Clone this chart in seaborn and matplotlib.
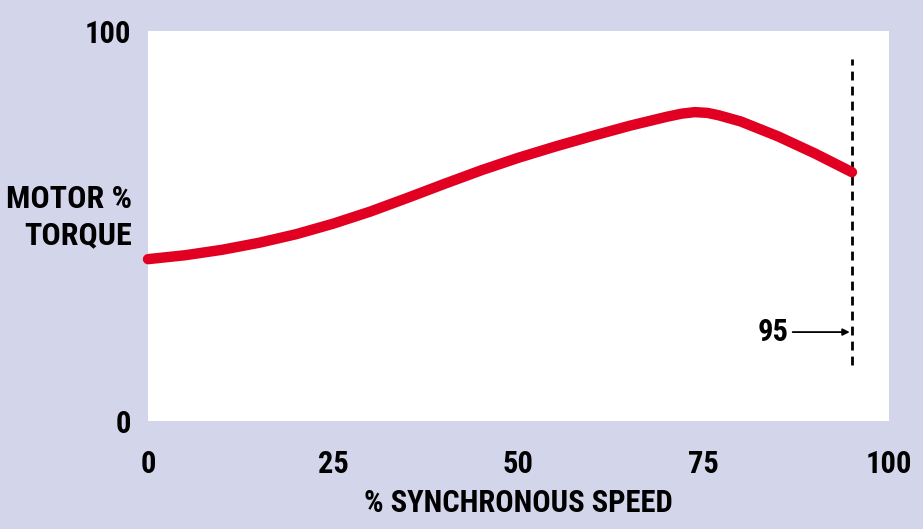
import matplotlib
matplotlib.use("Agg")
import matplotlib.pyplot as plt
import seaborn as sns
import pandas as pd

# Motor torque vs. synchronous speed
speed_pct = [0, 5, 10, 15, 20, 25, 30, 35, 40, 45, 50, 55, 60, 65, 70, 72, 73.8, 75.5, 77, 80, 85, 90, 95]
torque_pct = [41.5, 42.5, 43.9, 45.7, 47.9, 50.6, 53.7, 57.2, 60.8, 64.3, 67.5, 70.4, 73.1, 75.7, 78.0, 78.8, 79.2, 79.0, 78.4, 76.8, 73.0, 68.6, 63.8]
x_ticks = [0, 25, 50, 75, 100]
y_ticks = [0, 100]
rated_speed = 95

BG = "#D3D5EB"
RED = "#E10022"

sns.set_theme(style="white")
plt.rcParams["font.family"] = ["Roboto Condensed", "DejaVu Sans"]
plt.rcParams["font.weight"] = "bold"
plt.rcParams["text.color"] = "black"
plt.rcParams["xtick.color"] = "black"
plt.rcParams["ytick.color"] = "black"
plt.rcParams["axes.labelcolor"] = "black"

fig = plt.figure(figsize=(9.23, 5.29), dpi=100, facecolor=BG)
W, H = 923, 529
ax = fig.add_axes([148 / W, (H - 421) / H, (889 - 148) / W, (421 - 31) / H])
ax.set_facecolor("white")

df = pd.DataFrame({"speed": speed_pct, "torque": torque_pct})
sns.lineplot(data=df, x="speed", y="torque", ax=ax, color=RED, linewidth=7.5,
             solid_capstyle="round", solid_joinstyle="round", clip_on=False, zorder=3)

ax.set_xlim(0, 100)
ax.set_ylim(0, 100)
ax.set_xticks(x_ticks)
ax.set_yticks(y_ticks)
ax.set_xticklabels([str(t) for t in x_ticks], fontsize=22, fontweight="bold")
ax.set_yticklabels([str(t) for t in y_ticks], fontsize=22, fontweight="bold")
ax.tick_params(axis="x", length=0, pad=20)
ax.tick_params(axis="y", length=0, pad=12)
for s in ax.spines.values():
    s.set_visible(False)

ax.set_xlabel("% SYNCHRONOUS SPEED", fontsize=22, fontweight="bold", labelpad=7)
ax.set_ylabel("")
fig.text(132 / W, 1 - 217 / H, "MOTOR %\nTORQUE", ha="right", va="center",
         fontsize=23, fontweight="bold", linespacing=1.25)

# rated speed marker
ax.plot([rated_speed, rated_speed], [14.4, 92.8], color="black", linewidth=2,
        linestyle=(0, (3.2, 2.2)), zorder=2)
ax.annotate("", xy=(rated_speed - 0.3, 22.8), xytext=(87.0, 22.8),
            arrowprops=dict(arrowstyle="-|>", color="black", lw=1.3,
                            mutation_scale=10, shrinkA=0, shrinkB=0))
ax.text(86.4, 22.8, str(rated_speed), ha="right", va="center",
        fontsize=22, fontweight="bold")

fig.savefig("out.png", dpi=100, facecolor=BG)
